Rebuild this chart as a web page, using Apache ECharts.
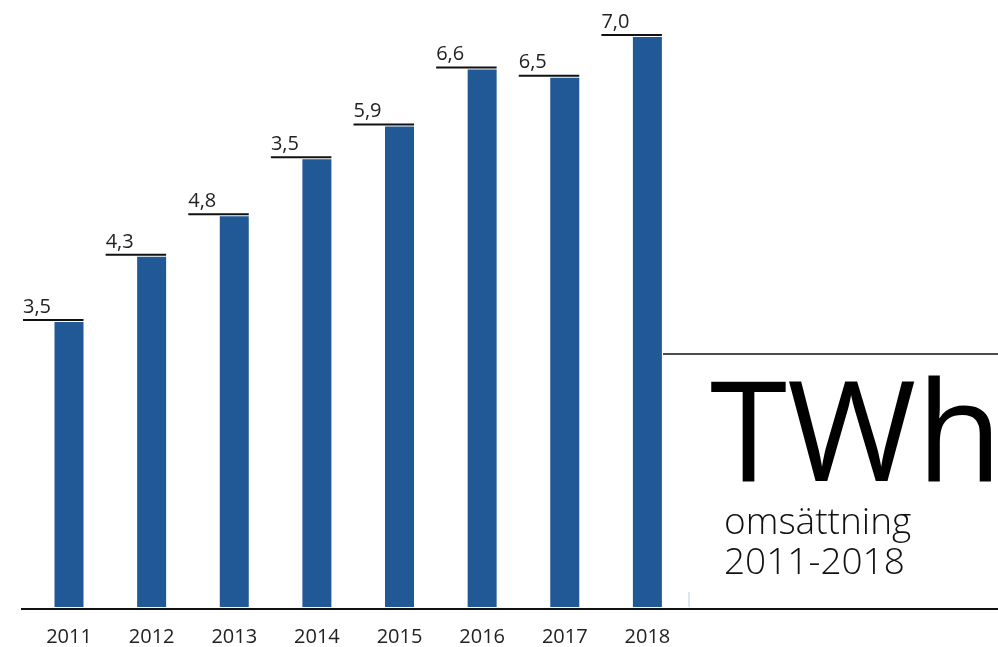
<!DOCTYPE html>
<html><head><meta charset="utf-8">
<script src="https://cdn.jsdelivr.net/npm/echarts@6/dist/echarts.min.js"></script>
<style>html,body{margin:0;padding:0;background:#fff}#c{width:998px;height:647px}</style>
</head><body><div id="c"></div>
<script>
const years = ['2011','2012','2013','2014','2015','2016','2017','2018'];
const values = [3.5, 4.3, 4.8, 5.5, 5.9, 6.6, 6.5, 7.0];
const valueLabels = ['3,5','4,3','4,8','3,5','5,9','6,6','6,5','7,0'];
const titleText = 'TWh';
const subtitleLines = ['omsättning', '2011-2018'];

const FONT = '"Open Sans", "Noto Sans", sans-serif';
const chart = echarts.init(document.getElementById('c'));
const option = {
  animation: false,
  grid: {left: 27.7, right: 309.3, top: 37, bottom: 40},
  xAxis: {
    type: 'category', data: years,
    axisLine: {show: false}, axisTick: {show: false},
    axisLabel: {color: '#222', fontSize: 20, fontFamily: FONT, margin: 20}
  },
  yAxis: {type: 'value', min: 0, max: 7, show: false},
  series: [
    {type: 'bar', data: values, barWidth: 29, itemStyle: {color: '#215896'}},
    {
      type: 'custom', data: values.map((v, i) => [i, v]),
      renderItem: function (params, api) {
        const p = api.coord([api.value(0), api.value(1)]);
        const y = p[1] - 2;
        return {type: 'group', children: [
          {type: 'line', shape: {x1: p[0] - 46, y1: y, x2: p[0] + 14.5, y2: y},
           style: {stroke: '#111', lineWidth: 2}},
          {type: 'text', style: {text: valueLabels[params.dataIndex], x: p[0] - 46, y: y - 3,
            textAlign: 'left', textVerticalAlign: 'bottom', fill: '#222', fontSize: 20, fontFamily: FONT}}
        ]};
      }
    }
  ],
  graphic: [
    {type: 'line', shape: {x1: 21, y1: 609, x2: 998, y2: 609}, style: {stroke: '#111', lineWidth: 2}},
    {type: 'line', shape: {x1: 663, y1: 354, x2: 998, y2: 354}, style: {stroke: '#111', lineWidth: 1.5}},
    {type: 'line', shape: {x1: 689, y1: 592, x2: 689, y2: 607}, style: {stroke: '#b8cde3', lineWidth: 1}},
    {type: 'text', left: 710, top: 371, style: {text: titleText, fill: '#000', fontSize: 140, fontWeight: 'normal', fontFamily: FONT}},
    {type: 'text', left: 724, top: 503, style: {text: subtitleLines.join('\n'), fill: '#111', fontSize: 37, lineHeight: 40, fontWeight: 300, fontFamily: FONT}}
  ]
};
chart.setOption(option);
</script></body></html>
